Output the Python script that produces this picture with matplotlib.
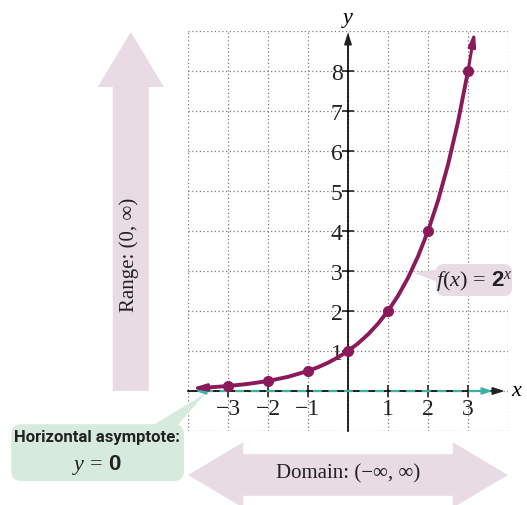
import matplotlib
matplotlib.use('Agg')
import matplotlib.pyplot as plt
import matplotlib.patches as mpatches

plt.rcParams['font.family'] = ['Liberation Serif', 'DejaVu Serif']
plt.rcParams['mathtext.fontset'] = 'custom'
plt.rcParams['mathtext.rm'] = 'Liberation Serif'
plt.rcParams['mathtext.it'] = 'Liberation Serif:italic'
plt.rcParams['mathtext.bf'] = 'Liberation Sans:bold'

# Plotted points of f(x) = 2^x
pts_x = [-3, -2, -1, 0, 1, 2, 3]
pts_y = [0.125, 0.25, 0.5, 1, 2, 4, 8]

# Curve values (ends are the arrow tips)
curve_x = [-3.92, -3.5, -3, -2.5, -2, -1.5, -1, -0.75, -0.5, -0.25, 0, 0.25, 0.5,
           0.75, 1, 1.25, 1.5, 1.75, 2, 2.25, 2.5, 2.75, 3, 3.17]
curve_y = [0.066, 0.088, 0.125, 0.177, 0.25, 0.354, 0.5, 0.595, 0.707, 0.841, 1,
           1.189, 1.414, 1.682, 2, 2.378, 2.828, 3.364, 4, 4.757, 5.657, 6.727, 8, 9.0]

x_ticks = [-3, -2, -1, 1, 2, 3]
y_ticks = [1, 2, 3, 4, 5, 6, 7, 8]

curve_col = '#8a1a5b'
teal = '#3bb3a3'
pink = '#e8dbe3'
green = '#d6ebdd'
ink = '#222222'

fig = plt.figure(figsize=(5.27, 5.06), dpi=100)
ax = fig.add_axes([188 / 527, 74 / 506, 320 / 527, 400 / 506])
ax.set_xlim(-4, 4)
ax.set_ylim(-1, 9)

ax.set_xticks(x_ticks)
ax.set_xticks([-4, 0, 4], minor=True)
ax.set_yticks(y_ticks)
ax.set_yticks([-1, 0, 9], minor=True)
ax.set_axisbelow(True)
ax.grid(which='both', ls=(0, (1, 2)), color='#7a7a7a', lw=0.9)
ax.tick_params(which='minor', length=0)
ax.tick_params(which='major', direction='inout', length=8, width=1.2, labelsize=17,
               colors=ink)
ax.tick_params(axis='x', pad=1)
ax.tick_params(axis='y', pad=0)

for s in ['top', 'right']:
    ax.spines[s].set_visible(False)
ax.spines['left'].set_position(('data', 0))
ax.spines['bottom'].set_position(('data', 0))
ax.spines['left'].set_bounds(-1, 8.7)
ax.spines['bottom'].set_bounds(-4, 3.7)
ax.spines['left'].set_linewidth(1.2)
ax.spines['bottom'].set_linewidth(1.2)

# axis arrowheads
ax.annotate('', xy=(0, 8.97), xytext=(0, 8.5),
            arrowprops=dict(arrowstyle='-|>,head_length=0.7,head_width=0.22',
                            color=ink, lw=1.2, shrinkA=0, shrinkB=0))
ax.annotate('', xy=(3.92, 0), xytext=(3.5, 0),
            arrowprops=dict(arrowstyle='-|>,head_length=0.7,head_width=0.22',
                            color=ink, lw=1.2, shrinkA=0, shrinkB=0))
ax.text(4.2, 0, 'x', style='italic', fontsize=16, ha='center', va='center', clip_on=False)
ax.text(0, 9.35, 'y', style='italic', fontsize=16, ha='center', va='center', clip_on=False)

# horizontal asymptote
ax.plot([-3.6, 3.4], [0, 0], color=teal, lw=1.6, ls=(0, (4, 3)), zorder=3)
for tip, base in [(-3.82, -3.4), (3.62, 3.2)]:
    ax.annotate('', xy=(tip, 0), xytext=(base, 0),
                arrowprops=dict(arrowstyle='-|>,head_length=0.6,head_width=0.2',
                                color=teal, lw=1.4, shrinkA=0, shrinkB=0), zorder=3)

# curve and points
ax.plot(curve_x[1:-1], curve_y[1:-1], color=curve_col, lw=2.8, zorder=4,
        solid_capstyle='butt')
for i, j in [(0, 1), (-1, -2)]:
    ax.annotate('', xy=(curve_x[i], curve_y[i]), xytext=(curve_x[j], curve_y[j]),
                arrowprops=dict(arrowstyle='-|>,head_length=0.8,head_width=0.2',
                                color=curve_col, lw=2.2, shrinkA=0, shrinkB=0),
                zorder=4)
ax.plot(pts_x, pts_y, 'o', color=curve_col, ms=7, zorder=5)

# range arrow
ax.add_patch(mpatches.FancyArrow(-5.43, 0, 0, 8.975, width=0.9, head_width=1.66,
                                 head_length=1.375, length_includes_head=True,
                                 color=pink, lw=0, clip_on=False))
ax.text(-5.47, 3.43, 'Range: (0, \u221e)', rotation=90, fontsize=15,
        ha='center', va='center', color=ink, clip_on=False)

# domain arrow
for d in [-4.0, 4.0]:
    ax.add_patch(mpatches.FancyArrow(0, -2.1, d, 0, width=1.04, head_width=1.64,
                                     head_length=1.38, length_includes_head=True,
                                     color=pink, lw=0, clip_on=False))
ax.text(0, -2.05, 'Domain: (\u2212\u221e, \u221e)', fontsize=15, ha='center',
        va='center', color=ink, clip_on=False)

# asymptote callout
ax.add_patch(mpatches.Polygon([(-4.95, -0.9), (-4.3, -0.9), (-3.55, -0.05)],
                              closed=True, color=green, lw=0, clip_on=False))
ax.add_patch(mpatches.FancyBboxPatch((-8.42, -2.25), 4.32, 1.42,
                                     boxstyle='round,pad=0,rounding_size=0.25',
                                     color=green, lw=0, clip_on=False))
ax.text(-6.27, -1.13, 'Horizontal asymptote:', fontsize=12, fontweight='bold',
        family=['Roboto', 'DejaVu Sans'], fontstretch='condensed',
        ha='center', va='center', color=ink, clip_on=False)
ax.text(-6.27, -1.83, r'$y\,=\,\mathbf{0}$', fontsize=16, ha='center', va='center',
        color=ink, clip_on=False)

# f(x) label
ax.add_patch(mpatches.Polygon([(1.65, 2.95), (2.3, 3.05), (2.3, 2.7)],
                              closed=True, color=pink, lw=0, zorder=2))
ax.add_patch(mpatches.FancyBboxPatch((2.2, 2.375), 1.9, 0.8,
                                     boxstyle='round,pad=0,rounding_size=0.2',
                                     color=pink, lw=0, zorder=2, clip_on=False))
ax.text(3.15, 2.78, r'$f(x)\,=\,\mathbf{2}^{x}$', fontsize=16, ha='center',
        va='center', color=ink, zorder=6, clip_on=False)

plt.savefig('out.png', dpi=100)
